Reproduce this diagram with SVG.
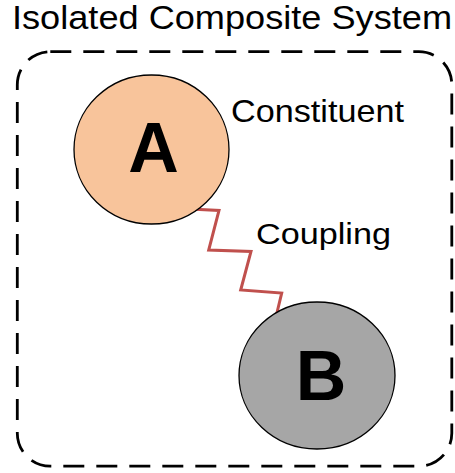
<svg xmlns="http://www.w3.org/2000/svg" width="455" height="473" viewBox="0 0 455 473">
  <style>
    .label { font-family: "Liberation Sans", Arial, sans-serif; fill: #000; }
    .node-letter { font-family: "Liberation Sans", Arial, sans-serif; font-weight: bold; font-size: 70px; fill: #000; text-anchor: middle; }
    .boundary { fill: none; stroke: #000; stroke-width: 2.8; stroke-dasharray: 21 12; }
    .coupling { fill: none; stroke: #c0504d; stroke-width: 3; stroke-linejoin: miter; }
    .body { stroke: #000; stroke-width: 1.3; }
  </style>
  <rect width="455" height="473" fill="#fff"/>

  <!-- system boundary -->
  <g id="system">
    <rect class="boundary" x="17.3" y="51.7" width="434.5" height="414.5" rx="33" ry="33"/>
    <text class="label" x="12" y="29" font-size="33" textLength="440" lengthAdjust="spacingAndGlyphs">Isolated Composite System</text>
  </g>

  <!-- coupling spring between the constituents -->
  <g id="connectors">
    <polyline class="coupling" points="190,209 219,210.5 208.7,250 251,251.5 240.7,290 281.7,293 274,325"/>
    <text class="label" x="256" y="244" font-size="30" textLength="135" lengthAdjust="spacingAndGlyphs">Coupling</text>
  </g>

  <g id="node-A">
    <ellipse class="body" cx="151.5" cy="149.5" rx="77.5" ry="74.5" fill="#f8c49b"/>
    <text class="node-letter" x="153.5" y="172">A</text>
  </g>

  <g id="label-constituent">
    <text class="label" x="231" y="122" font-size="30.5" textLength="173" lengthAdjust="spacingAndGlyphs">Constituent</text>
  </g>

  <g id="node-B">
    <ellipse class="body" cx="317" cy="375.5" rx="78" ry="73.5" fill="#a6a6a6"/>
    <text class="node-letter" x="321" y="400">B</text>
  </g>
</svg>
